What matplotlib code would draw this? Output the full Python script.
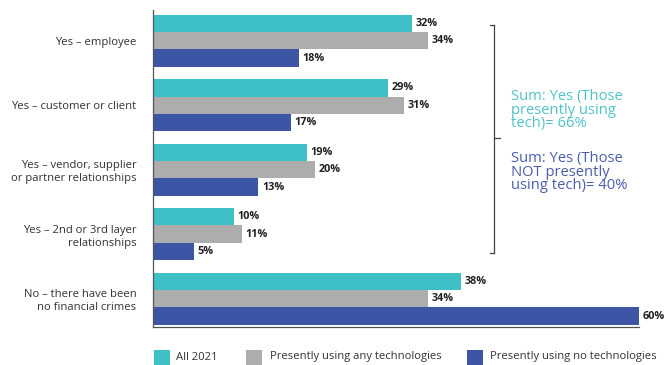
import matplotlib

matplotlib.use("Agg")
import matplotlib.pyplot as plt
import numpy as np
from matplotlib.patches import Rectangle

plt.rcParams["font.family"] = ["Open Sans", "DejaVu Sans"]

categories = [
    "Yes – employee",
    "Yes – customer or client",
    "Yes – vendor, supplier\nor partner relationships",
    "Yes – 2nd or 3rd layer\nrelationships",
    "No – there have been\nno financial crimes",
]
series_names = ["All 2021", "Presently using any technologies", "Presently using no technologies"]
all_2021 = [32, 29, 19, 10, 38]
any_tech = [34, 31, 20, 11, 34]
no_tech = [18, 17, 13, 5, 60]

colors = ["#3ec1c6", "#adadad", "#3c55a5"]

W, H = 665, 365
fig = plt.figure(figsize=(W / 100, H / 100), dpi=100)
ax = fig.add_axes([153 / W, 1 - 327 / H, 486 / W, 317 / H])

y = np.arange(len(categories))
h = 0.27
for i, (vals, col) in enumerate(zip([all_2021, any_tech, no_tech], colors)):
    pos = y + (i - 1) * h
    ax.barh(pos, vals, height=h, color=col, clip_on=False)
    for p, v in zip(pos, vals):
        ax.text(v + 0.45, p, f"{v}%", va="center", ha="left",
                fontsize=7.8, fontweight="bold", color="#222222", clip_on=False)

ax.set_xlim(0, 60)
ax.set_ylim(4.44, -0.477)
ax.set_yticks(y)
ax.set_yticklabels(categories, fontsize=8.1, color="#333333", linespacing=1.25)
ax.tick_params(axis="y", length=0, pad=12)
ax.set_xticks([])
for s in ["top", "right"]:
    ax.spines[s].set_visible(False)
for s in ["left", "bottom"]:
    ax.spines[s].set_color("#555555")
    ax.spines[s].set_linewidth(0.9)

# bracket grouping the "Yes" rows
bx = 494 / W
fig.add_artist(plt.Line2D([bx, bx], [1 - 25 / H, 1 - 253 / H], color="#444444", lw=0.9))
for yy in [25, 253]:
    fig.add_artist(plt.Line2D([490 / W, bx], [1 - yy / H] * 2, color="#444444", lw=0.9))
fig.add_artist(plt.Line2D([bx, 500 / W], [1 - 138 / H] * 2, color="#444444", lw=0.9))

fig.text(511 / W, 1 - 110 / H, "Sum: Yes (Those\npresently using\ntech)= 66%",
         color="#4fc3c9", fontsize=10.6, va="center", ha="left", linespacing=0.88)
fig.text(511 / W, 1 - 172 / H, "Sum: Yes (Those\nNOT presently\nusing tech)= 40%",
         color="#4a5dab", fontsize=10.6, va="center", ha="left", linespacing=0.88)

# legend
for name, col, sx, tx in zip(series_names, colors, [154, 246, 467], [176, 270, 490]):
    fig.add_artist(Rectangle((sx / W, 1 - 365 / H), 16 / W, 15 / H,
                             transform=fig.transFigure, facecolor=col, edgecolor="none"))
    fig.text(tx / W, 1 - 357 / H, name, fontsize=8.1, color="#333333", va="center", ha="left")

fig.savefig("out.png", dpi=100)
